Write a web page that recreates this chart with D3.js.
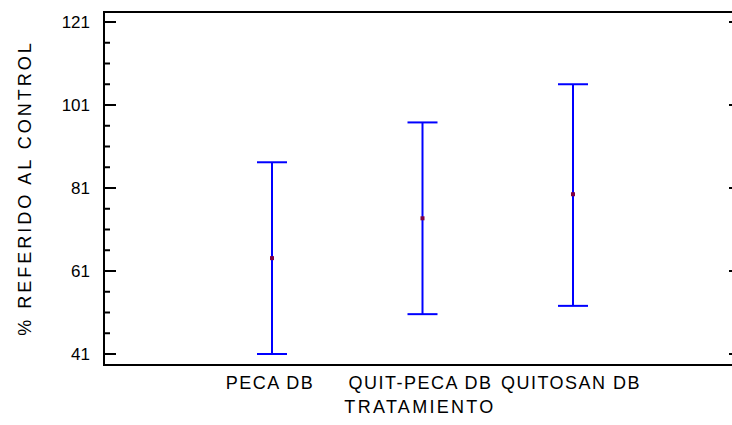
<!DOCTYPE html>
<html>
<head>
<meta charset="utf-8">
<script src="https://cdn.jsdelivr.net/npm/d3@7"></script>
<style>
  html, body { margin: 0; padding: 0; background: #fff; }
  text { font-family: "Liberation Sans", Arial, sans-serif; fill: #000; }
</style>
</head>
<body>
<svg id="chart" width="732" height="425"></svg>
<script>
// ---- data ----
const categories = ["PECA DB", "QUIT-PECA DB", "QUITOSAN DB"];
const means = [64.1, 73.7, 79.5];
const lower = [41.0, 50.6, 52.6];
const upper = [87.2, 96.8, 106.0];
const majorTicks = [41, 61, 81, 101, 121];
const minorTicks = [46, 51, 56, 66, 71, 76, 86, 91, 96, 106, 111, 116];
const xTitle = "TRATAMIENTO";
const yTitle = "% REFERIDO AL CONTROL";

// ---- layout ----
const svg = d3.select("#chart");
const mLeft = 104, mRight = 740, mTop = 12, mBottom = 365;

const y = d3.scaleLinear().domain([41, 121]).range([354, 22]);
const x = d3.scalePoint().domain(categories).range([272, 573]);

// frame
const g = svg.append("g");
g.append("path")
  .attr("d", `M${mRight},${mTop}H${mLeft}V${mBottom}H${mRight}`)
  .attr("fill", "none").attr("stroke", "#000").attr("stroke-width", 2);

// left major ticks
g.selectAll(".maj").data(majorTicks).enter().append("line")
  .attr("x1", mLeft).attr("x2", mLeft + 12)
  .attr("y1", d => y(d)).attr("y2", d => y(d))
  .attr("stroke", "#000").attr("stroke-width", 2);
// left minor ticks
g.selectAll(".min").data(minorTicks).enter().append("line")
  .attr("x1", mLeft).attr("x2", mLeft + 6)
  .attr("y1", d => y(d)).attr("y2", d => y(d))
  .attr("stroke", "#000").attr("stroke-width", 2);
// right major ticks (inward, axis beyond the view)
g.selectAll(".rmaj").data(majorTicks).enter().append("line")
  .attr("x1", 729).attr("x2", 740)
  .attr("y1", d => y(d)).attr("y2", d => y(d))
  .attr("stroke", "#000").attr("stroke-width", 2);

// tick labels
g.selectAll(".tl").data(majorTicks).enter().append("text")
  .attr("x", 90).attr("y", d => y(d))
  .attr("dy", "0.36em")
  .attr("text-anchor", "end")
  .attr("font-size", 17)
  .text(d => d);

// category labels
g.selectAll(".cl").data(categories).enter().append("text")
  .attr("x", d => x(d) - 2).attr("y", 389)
  .attr("text-anchor", "middle")
  .attr("font-size", 18)
  .style("letter-spacing", "1.5px")
  .text(d => d);

// axis titles
g.append("text")
  .attr("x", 420).attr("y", 413)
  .attr("text-anchor", "middle")
  .attr("font-size", 18)
  .style("letter-spacing", "2.3px")
  .text(xTitle);

g.append("text")
  .attr("transform", `translate(31,188) rotate(-90)`)
  .attr("text-anchor", "middle")
  .attr("font-size", 18)
  .style("letter-spacing", "3px")
  .text(yTitle);

// error bars
const data = categories.map((c, i) => ({ c, m: means[i], lo: lower[i], hi: upper[i] }));
const bars = g.selectAll(".eb").data(data).enter().append("g");
const blue = "#0000ff";
bars.append("line")
  .attr("x1", d => x(d.c)).attr("x2", d => x(d.c))
  .attr("y1", d => y(d.lo)).attr("y2", d => y(d.hi))
  .attr("stroke", blue).attr("stroke-width", 2);
bars.append("line")
  .attr("x1", d => x(d.c) - 15).attr("x2", d => x(d.c) + 15)
  .attr("y1", d => y(d.hi)).attr("y2", d => y(d.hi))
  .attr("stroke", blue).attr("stroke-width", 2);
bars.append("line")
  .attr("x1", d => x(d.c) - 15).attr("x2", d => x(d.c) + 15)
  .attr("y1", d => y(d.lo)).attr("y2", d => y(d.lo))
  .attr("stroke", blue).attr("stroke-width", 2);
bars.append("rect")
  .attr("x", d => x(d.c) - 2).attr("y", d => y(d.m) - 2)
  .attr("width", 4).attr("height", 4)
  .attr("fill", "#800040");
</script>
</body>
</html>
